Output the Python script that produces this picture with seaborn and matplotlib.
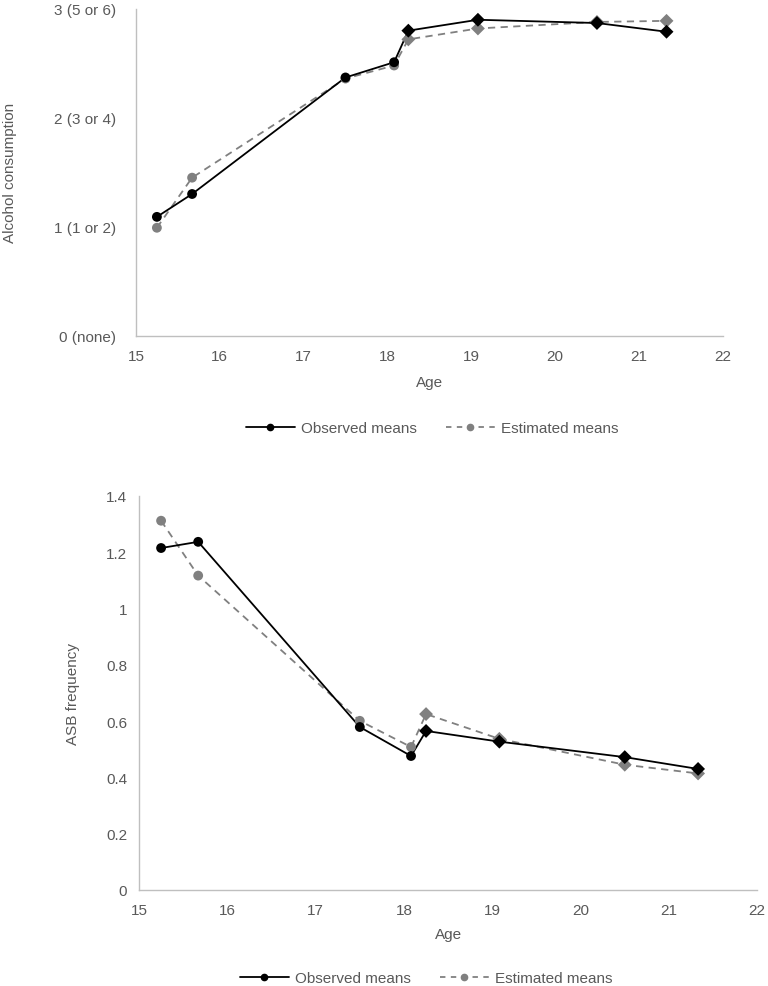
import matplotlib
matplotlib.use("Agg")
import matplotlib.pyplot as plt
import seaborn as sns
import pandas as pd
from matplotlib.lines import Line2D

sns.set_style("white")
plt.rcParams['font.family'] = ['Liberation Sans', 'DejaVu Sans']

ages = [15.25, 15.67, 17.5, 18.08, 18.25, 19.08, 20.5, 21.33]
wave = ["early", "early", "early", "early", "late", "late", "late", "late"]

alc_observed = [1.09, 1.30, 2.37, 2.51, 2.80, 2.90, 2.87, 2.79]
alc_estimated = [0.99, 1.45, 2.36, 2.48, 2.72, 2.82, 2.88, 2.89]

asb_observed = [1.215, 1.237, 0.579, 0.476, 0.565, 0.527, 0.472, 0.430]
asb_estimated = [1.312, 1.117, 0.601, 0.508, 0.625, 0.537, 0.445, 0.414]

alc_ticks = [0, 1, 2, 3]
alc_ticklabels = ["0 (none)", "1 (1 or 2)", "2 (3 or 4)", "3 (5 or 6)"]
asb_ticks = [0, 0.2, 0.4, 0.6, 0.8, 1.0, 1.2, 1.4]
asb_ticklabels = ["0", "0.2", "0.4", "0.6", "0.8", "1", "1.2", "1.4"]
x_ticks = [15, 16, 17, 18, 19, 20, 21, 22]

OBS_C = "#000000"
EST_C = "#808080"
TXT_C = "#595959"
SPINE_C = "#BFBFBF"
FS = 11
markers = {"early": "o", "late": "D"}

fig = plt.figure(figsize=(7.68, 9.87), dpi=100)
ax1 = fig.add_axes([0.177, 0.659, 0.764, 0.331])
ax2 = fig.add_axes([0.181, 0.0973, 0.805, 0.3992])


def draw(ax, obs, est, ylim, yticks, yticklabels, ylabel, legend_x, legend_y,
         ypad, xpad, xlabelpad):
    df = pd.DataFrame({"age": ages, "obs": obs, "est": est, "wave": wave})
    sns.lineplot(data=df, x="age", y="est", ax=ax, color=EST_C, linestyle=(0, (4, 3)),
                 linewidth=1.3, zorder=2)
    sns.lineplot(data=df, x="age", y="obs", ax=ax, color=OBS_C, linewidth=1.3, zorder=3)
    sns.scatterplot(data=df, x="age", y="est", style="wave", markers=markers, ax=ax,
                    color=EST_C, s=50, linewidth=0, zorder=4, legend=False)
    sns.scatterplot(data=df, x="age", y="obs", style="wave", markers=markers, ax=ax,
                    color=OBS_C, s=50, linewidth=0, zorder=5, legend=False)
    ax.set_xlim(15, 22)
    ax.set_ylim(*ylim)
    ax.set_xticks(x_ticks)
    ax.set_xticklabels([str(t) for t in x_ticks])
    ax.set_yticks(yticks)
    ax.set_yticklabels(yticklabels)
    ax.tick_params(axis="both", length=0, labelsize=FS, colors=TXT_C)
    ax.tick_params(axis="y", pad=ypad)
    ax.tick_params(axis="x", pad=xpad)
    for s in ["top", "right"]:
        ax.spines[s].set_visible(False)
    for s in ["left", "bottom"]:
        ax.spines[s].set_color(SPINE_C)
        ax.spines[s].set_linewidth(1.0)
    ax.set_xlabel("Age", fontsize=FS, color=TXT_C, labelpad=xlabelpad)
    ax.set_ylabel(ylabel, fontsize=FS, color=TXT_C)
    handles = [
        Line2D([0], [0], color=OBS_C, lw=1.3, marker="o", markersize=4.5),
        Line2D([0], [0], color=EST_C, lw=1.3, linestyle=(0, (3, 3)), marker="o", markersize=4.5),
    ]
    fig.legend(handles, ["Observed means", "Estimated means"], loc="center",
               bbox_to_anchor=(legend_x, legend_y), ncol=2, frameon=False, fontsize=FS,
               labelcolor=TXT_C, handlelength=3.2, columnspacing=1.9, handletextpad=0.4)


draw(ax1, alc_observed, alc_estimated, (0, 3), alc_ticks, alc_ticklabels,
     "Alcohol consumption", 432 / 768, 1 - 429 / 987, 14, 10, 8)
draw(ax2, asb_observed, asb_estimated, (0, 1.4), asb_ticks, asb_ticklabels,
     "ASB frequency", 426 / 768, 1 - 979 / 987, 8.6, 9.5, 7)

ax1.yaxis.set_label_coords(-0.203, 0.5)
ax2.yaxis.set_label_coords(-0.095, 0.5)

fig.savefig("out.png", dpi=100)
